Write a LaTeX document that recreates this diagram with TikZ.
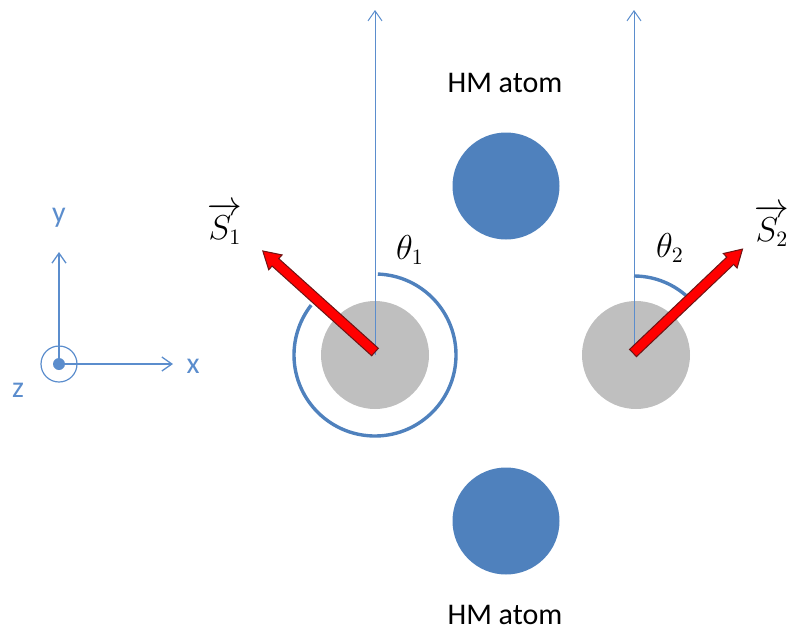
\documentclass[tikz,border=0pt]{standalone}
\usepackage{amsmath}
\usepackage{fontspec}
\setmainfont{Carlito}
\usetikzlibrary{arrows.meta}

\definecolor{atomblue}{RGB}{79,129,189}
\definecolor{lineblue}{RGB}{91,141,205}
\definecolor{atomgray}{RGB}{191,191,191}
\definecolor{spinedge}{RGB}{110,20,20}

\tikzset{
  hm/.style={circle,fill=atomblue,minimum size=53.5pt,inner sep=0pt},
  fe/.style={circle,fill=atomgray,minimum size=54pt,inner sep=0pt},
  barb/.style={-{Straight Barb[length=5pt,width=7pt]}},
  axis/.style={barb,lineblue,line width=0.65pt},
  refline/.style={barb,lineblue,line width=0.5pt},
  angarc/.style={atomblue,line width=1.7pt},
  lbl/.style={font=\fontsize{15}{18}\selectfont},
  mlbl/.style={font=\fontsize{16}{19}\selectfont},
  spin/.pic={
    \draw[spinedge,line width=0.5pt,fill=red,line join=miter]
      (0,-5) -- (134,-5) -- (134,-10) -- (151,0) -- (134,10) -- (134,5) -- (0,5) -- cycle;
  }
}

\begin{document}
\begin{tikzpicture}[x=0.5pt,y=0.5pt]
	\useasboundingbox (0,0) rectangle (787,634);
	% atoms
	\node[fe] (a1) at (375,279) {};
	\node[fe] (a2) at (636,279) {};
	\node[hm] (h1) at (506,448) {};
	\node[hm] (h2) at (506,113) {};
	\node[lbl] (l1) at (505,551) {HM atom};
	\node[lbl] (l2) at (505,19)  {HM atom};
	% reference directions
	\coordinate (t1) at (375,624);
	\coordinate (t2) at (634,624);
	\draw[refline] (a1.center) -- (t1);
	\draw[refline] (a2.center |- a2.center) ++(-2,0) coordinate (b2) -- (t2);
	% angles
	\draw[angarc] ([shift={(88:81)}]a1.center) arc[start angle=88,end angle=-218,radius=81];
	\draw[angarc] ([shift={(90:79)}]b2) arc[start angle=90,end angle=49,radius=79];
	\node[mlbl] (th1) at (410,384) {$\theta_1$};
	\node[mlbl] (th2) at (670,386) {$\theta_2$};
	% spins
	\pic[rotate=138] at (375,282) {spin};
	\pic[rotate=43.5] at (633,281) {spin};
	\node[mlbl] (s1) at (225,410) {$\overrightarrow{S_1}$};
	\node[mlbl] (s2) at (772,408) {$\overrightarrow{S_2}$};
	% axes
	\node[circle,draw=lineblue,line width=0.6pt,minimum size=18pt,inner sep=0pt] (o) at (59,270) {};
	\fill[lineblue] (o.center) circle[radius=6];
	\coordinate (ox) at (173,270);
	\coordinate (oy) at (59,382);
	\draw[axis] (o.center) -- (ox);
	\draw[axis] (o.center) -- (oy);
	\node[lbl,text=lineblue] (lx) at (193,268) {x};
	\node[lbl,text=lineblue] (ly) at (59,416) {y};
	\node[lbl,text=lineblue] (lz) at (18,244) {z};
\end{tikzpicture}
\end{document}
